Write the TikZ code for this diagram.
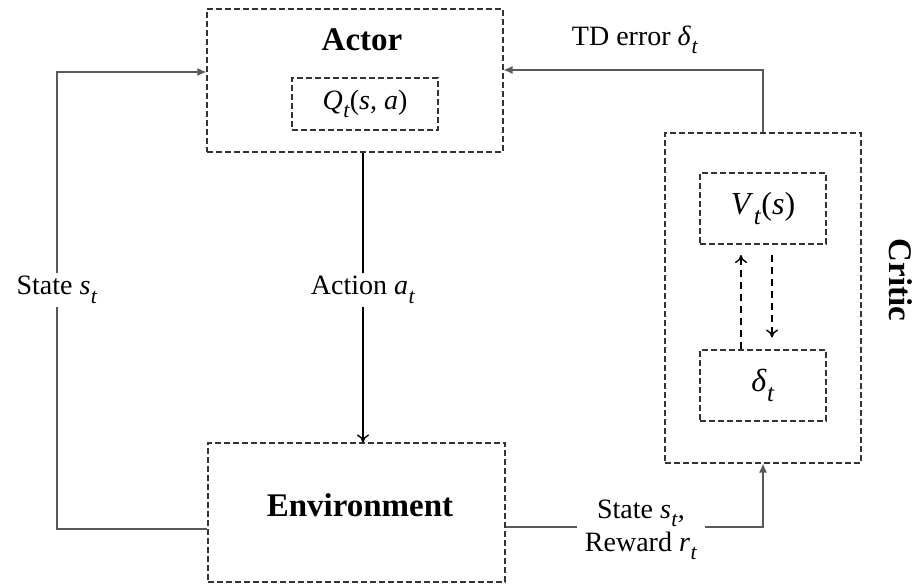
\documentclass[tikz,border=0pt]{standalone}
\usepackage{fontspec}
\usepackage{graphicx}
\setmainfont{Liberation Serif}
\usetikzlibrary{arrows.meta}
\newcommand\mv[1]{\textit{#1}}
\newcommand\msub[2]{\textit{#1}\kern0.5pt\raisebox{-0.3em}{\scalebox{0.78}{\textit{#2}}}}
\begin{document}
\begin{tikzpicture}[x=1pt,y=-1pt,
  box/.style={draw=black!80,line width=1.1pt,dash pattern=on 6pt off 3pt,inner sep=0pt},
  lbl/.style={font=\fontsize{28}{32}\selectfont,fill=white,inner sep=3pt,align=center},
  ttl/.style={font=\fontsize{33}{36}\selectfont\bfseries},
  gline/.style={draw=black!65,line width=1.2pt},
  tri/.style={-{Latex[length=9pt,width=8pt]}},
  opn/.style={-{To[length=8pt,width=12pt,line width=1.4pt]}}
]
\useasboundingbox (0,0) rectangle (917,585);
% boxes
\node[box,minimum width=296pt,minimum height=143pt] (actor) at (355,80.5) {};
\node[ttl] (actortxt) at (362,40) {Actor};
\node[box,minimum width=146pt,minimum height=52pt,font=\fontsize{28}{30}\selectfont] (q) at (365,104) {\msub{Q}{t}(\mv{s}, \mv{a})};
\node[box,minimum width=297pt,minimum height=139pt] (env) at (356.5,512.5) {};
\node[ttl] (envtxt) at (360,505) {Environment};
\node[box,minimum width=196pt,minimum height=330pt] (critic) at (763,298) {};
\node[box,minimum width=126pt,minimum height=71pt,font=\fontsize{32}{34}\selectfont] (v) at (763,208.5) {\msub{V}{t}(\mv{s})};
\node[box,minimum width=126pt,minimum height=71pt,font=\fontsize{32}{34}\selectfont] (d) at (763,385.5) {\msub{δ}{t}};
\node[ttl,rotate=-90] (crittxt) at (901,280) {Critic};
% coordinates
\coordinate (ax) at (363,0);
\coordinate (lx) at (57,529);
\coordinate (ly) at (57,72);
\coordinate (ty) at (763,70);
\coordinate (by) at (763,527);
\coordinate (up) at (741,255);
\coordinate (dn) at (772,255);
% action
\draw[line width=1.8pt,opn] (actor.south -| ax) -- (env.north -| ax);
\node[lbl] (actlab) at (363,290) {Action \msub{a}{t}};
% state loop left
\draw[gline,tri] (env.west |- lx) -- (lx) -- (ly) -- (actor.west |- ly);
\node[lbl] (statelab) at (57,290) {State \msub{s}{t}};
% TD error
\draw[gline,tri] (critic.north) -- (ty) -- (actor.east |- ty);
\node[lbl,fill=none] (tdlab) at (635,40) {TD error \msub{δ}{t}};
% state/reward to critic
\draw[gline,tri] (env.east |- by) -- (by) -- (critic.south);
\node[lbl,inner xsep=8pt,font=\fontsize{28}{33}\selectfont] (srlab) at (641,530) {State \msub{s}{t},\\Reward \msub{r}{t}};
% dashed arrows inside critic
\draw[line width=1.5pt,dash pattern=on 7pt off 5pt,opn] (d.north -| up) -- (up);
\draw[line width=1.5pt,dash pattern=on 7pt off 5pt,opn] (dn) -- ([yshift=12pt]d.north -| dn);
\end{tikzpicture}
\end{document}
